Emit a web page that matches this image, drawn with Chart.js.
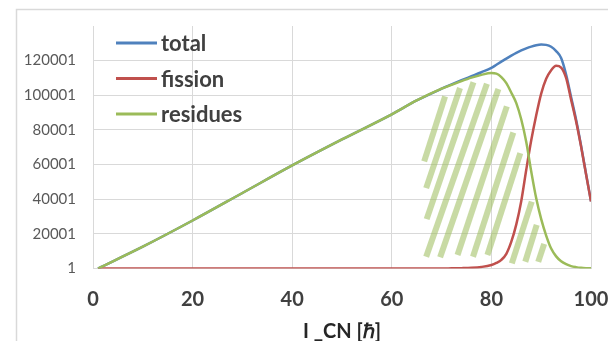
<!DOCTYPE html>
<html>
<head>
<meta charset="utf-8">
<script src="https://cdn.jsdelivr.net/npm/chart.js@4"></script>
<style>
    html, body { margin: 0; padding: 0; background: #fff; overflow: hidden; }
    #wrap { width: 608px; height: 341px; }
</style>
</head>
<body>
<div id="wrap"><canvas id="chart" width="608" height="341"></canvas></div>
<script>
    // angular momentum of the compound nucleus
    var lCN = [1, 10, 20, 30, 40, 50, 60, 65, 70, 72, 74, 76, 78, 80, 81, 82, 83, 84, 85, 86,
        87, 88, 89, 90, 91, 92, 93, 94, 95, 96, 97, 98, 99, 100];

    var total = [1, 12600, 27700, 43600, 59500, 74500, 89000, 97000, 103800, 106300, 108700, 111000,
        113300, 115800, 117600, 119400, 121200, 122900, 124500, 125900, 127100, 128100, 128900, 129300,
        129100, 128000, 125500, 121500, 112000, 99000, 86000, 71000, 54700, 38800];

    var fission = [1, 1, 1, 1, 1, 1, 1, 1, 1, 100, 200, 400, 900, 2000, 3200, 5000, 8500, 15500, 25500,
        39000, 57000, 74000, 88500, 101000, 109500, 114500, 117000, 116000, 110000, 97500, 85000, 70500,
        54500, 38700];

    var residues = [1, 12600, 27700, 43600, 59500, 74500, 89000, 97000, 103800, 106000, 108200, 110200,
        111800, 112800, 112500, 110500, 107000, 101500, 95500, 86000, 73000, 56000, 40500, 28500, 19000,
        11500, 7000, 4200, 2500, 1400, 800, 400, 200, 100];

    // hatch strokes under the residues peak (lower end -> upper end)
    var stripeLowX = [66.5, 66.9, 67.0, 66.9, 69.7, 73.2, 76.3, 79.2, 84.1, 86.8, 89.4];
    var stripeLowY = [61800, 46400, 28500, 6800, 6500, 7800, 6800, 7800, 3000, 3900, 3800];
    var stripeHighX = [70.7, 73.7, 76.4, 79.1, 81.4, 83.1, 84.4, 85.8, 88.1, 89.1, 90.6];
    var stripeHighY = [99400, 104200, 107500, 106700, 103600, 93600, 78500, 66600, 38600, 25200, 14200];

    var xMin = 0, xMax = 100, xStep = 20;
    var yMin = 1, yMax = 140001, yStep = 20000;

    function points(values) {
        return values.map(function (v, i) {
            return { x: lCN[i], y: v };
        });
    }

    function curve(label, values, color, order) {
        return {
            label: label,
            data: points(values),
            borderColor: color,
            backgroundColor: color,
            borderWidth: 2.5,
            pointRadius: 0,
            cubicInterpolationMode: 'monotone',
            order: order
        };
    }

    var stripes = stripeLowX.map(function (x0, i) {
        return {
            data: [{ x: x0, y: stripeLowY[i] }, { x: stripeHighX[i], y: stripeHighY[i] }],
            borderColor: 'rgba(155, 187, 89, 0.55)',
            borderWidth: 6,
            borderCapStyle: 'butt',
            pointRadius: 0,
            tension: 0,
            order: 5
        };
    });

    var frameAndLegend = {
        id: 'frameAndLegend',
        beforeDraw: function (chart) {
            var ctx = chart.ctx;
            ctx.save();
            ctx.fillStyle = '#fff';
            ctx.fillRect(0, 0, chart.width, chart.height);
            ctx.strokeStyle = '#d9d9d9';
            ctx.lineWidth = 1.5;
            ctx.strokeRect(16.5, 9.5, chart.width + 20, chart.height + 20);
            ctx.restore();
        },
        afterDatasetsDraw: function (chart) {
            var ctx = chart.ctx;
            var row = 0;
            ctx.save();
            chart.data.datasets.forEach(function (ds) {
                if (!ds.label) {
                    return;
                }
                var y = 43 + row * 35.5;
                ctx.strokeStyle = ds.borderColor;
                ctx.lineWidth = 3;
                ctx.beginPath();
                ctx.moveTo(116, y);
                ctx.lineTo(157, y);
                ctx.stroke();
                ctx.fillStyle = '#404040';
                ctx.font = 'bold 22px Lato';
                ctx.textBaseline = 'middle';
                ctx.fillText(ds.label, 161, y + 1);
                row++;
            });
            ctx.restore();
        }
    };

    new Chart(document.getElementById('chart'), {
        type: 'line',
        data: {
            datasets: [
                curve('total', total, '#4f81bd', 2),
                curve('fission', fission, '#c0504d', 1),
                curve('residues', residues, '#9bbb59', 0)
            ].concat(stripes)
        },
        options: {
            responsive: false,
            animation: false,
            events: [],
            layout: { padding: { top: 26, right: 17, left: 0, bottom: 0 } },
            plugins: {
                legend: { display: false },
                tooltip: { enabled: false }
            },
            scales: {
                x: {
                    type: 'linear',
                    min: xMin,
                    max: xMax,
                    afterFit: function (scale) {
                        scale.height = 72.5;
                        scale.paddingLeft = 0;
                        scale.paddingRight = 0;
                    },
                    border: { display: false },
                    grid: { color: '#d9d9d9', drawTicks: false },
                    ticks: {
                        stepSize: xStep,
                        padding: 19,
                        color: '#404040',
                        font: { family: 'Lato', size: 20, weight: 'bold' }
                    },
                    title: {
                        display: true,
                        text: 'I _CN [ℏ]',
                        color: '#262626',
                        padding: 0,
                        font: { family: 'Lato', size: 20, weight: 'bold', lineHeight: 0.92 }
                    }
                },
                y: {
                    min: yMin,
                    max: yMax,
                    afterFit: function (scale) {
                        scale.width = 93;
                        scale.paddingTop = 0;
                        scale.paddingBottom = 0;
                    },
                    border: { display: false },
                    grid: {
                        drawTicks: false,
                        color: function (c) {
                            return c.tick && c.tick.value === yMax ? 'rgba(0,0,0,0)' : '#d9d9d9';
                        }
                    },
                    ticks: {
                        stepSize: yStep,
                        padding: 17,
                        color: '#595959',
                        font: { family: 'Lato', size: 15 },
                        callback: function (v) { return v === yMax ? '' : String(v); }
                    }
                }
            }
        },
        plugins: [frameAndLegend]
    });
</script>
</body>
</html>
